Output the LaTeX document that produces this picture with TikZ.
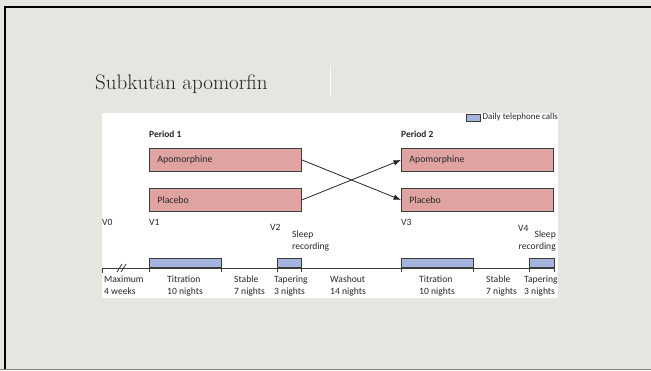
\documentclass[tikz,border=0pt]{standalone}
\usepackage{fontspec}
\newfontfamily\dfont{Carlito}
\usetikzlibrary{arrows.meta}
\definecolor{bgc}{RGB}{230,230,224}
\definecolor{boxfill}{RGB}{223,164,162}
\definecolor{barfill}{RGB}{165,180,220}
\definecolor{edgec}{RGB}{60,60,60}
\tikzset{
  tbox/.style={draw=edgec, line width=0.9pt, fill=boxfill, anchor=north west,
    text width=136pt, inner xsep=8pt, inner ysep=0pt, minimum height=23pt,
    align=left, font=\dfont\fontsize{9.8}{11}\selectfont, text=black!85},
  lbl/.style={inner sep=0pt, font=\dfont\fontsize{9.6}{11.5}\selectfont, text=black!85},
  tlbl/.style={lbl, anchor=north west, align=left},
  barbox/.style={draw=edgec, line width=0.8pt, fill=barfill, anchor=south west,
    minimum height=9pt, inner sep=0pt},
  arr/.style={draw=black!85, line width=0.8pt, -{Latex[length=7.5pt,width=5.5pt]}},
  tl/.style={draw=edgec, line width=0.8pt}
}
\begin{document}
\begin{tikzpicture}[x=1pt,y=-1pt]
\useasboundingbox (0,0) rectangle (651,370);
\fill[bgc] (0,0) rectangle (651,370);
\draw[black, line width=2pt] (5,370) -- (5,7) -- (651,7);
\draw[gray, line width=1.5pt] (0,369.3) -- (651,369.3);
\fill[white] (102,113) rectangle (558,298);
\node[anchor=west, inner sep=0pt, font=\fontsize{21}{25}\selectfont, text=black!85] (title) at (95,84) {Subkutan apomorfin};
\draw[white, line width=1pt] (330,66) -- (330,95);
% legend
\node[draw=edgec, line width=0.6pt, fill=barfill, minimum width=14pt, minimum height=7pt, inner sep=0pt, anchor=west] (leg) at (466,117.5) {};
\node[lbl, anchor=west, font=\dfont\fontsize{9}{10}\selectfont] (legt) at (482.5,117.5) {Daily telephone calls};
% periods
\node[lbl, anchor=west, font=\dfont\bfseries\fontsize{9.4}{11}\selectfont] (per1) at (149,134) {Period 1};
\node[lbl, anchor=west, font=\dfont\bfseries\fontsize{9.4}{11}\selectfont] (per2) at (401,134) {Period 2};
\node[tbox] (a1) at (149,148) {Apomorphine};
\node[tbox] (p1) at (149,188) {Placebo};
\node[tbox] (a2) at (401,148) {Apomorphine};
\node[tbox] (p2) at (401,188) {Placebo};
\draw[arr] (a1.east) -- (p2.west);
\draw[arr] (p1.east) -- (a2.west);
% visits
\node[lbl, anchor=west] (v0) at (102,222) {V0};
\node[lbl, anchor=west] (v1) at (149,222) {V1};
\node[lbl, anchor=west] (v2) at (270,227.5) {V2};
\node[lbl, anchor=west] (v3) at (401,222) {V3};
\node[lbl, anchor=west] (v4) at (518,228) {V4};
\node[lbl, anchor=north west, align=left] (s2) at (292,231) {Sleep\\recording};
\node[lbl, anchor=north east, align=right] (s4) at (556,231) {Sleep\\recording};
% timeline
\coordinate (tlL) at (102,268);
\coordinate (tlR) at (554,268);
\draw[tl] (tlL) -- (tlR);
\draw[tl] (tlL) -- ++(0,5);
\draw[tl] (117,272) -- (122,264);
\draw[tl] (121,272) -- (126,264);
\node[barbox, minimum width=72pt] (b1) at (149,268) {};
\node[barbox, minimum width=24pt] (b2) at (277,268) {};
\node[barbox, minimum width=72pt] (b3) at (401,268) {};
\node[barbox, minimum width=25pt] (b4) at (529,268) {};
\foreach \b in {b1,b2,b3,b4}{
  \draw[tl] (\b.north west) -- ++(0,14);
  \draw[tl] (\b.north east) -- ++(0,14);
}
% phase labels
\node[tlbl] (m0) at (104,276) {Maximum\\4 weeks};
\node[tlbl] (m1) at (167,276) {Titration\\10 nights};
\node[tlbl] (m2) at (234,276) {Stable\\7 nights};
\node[tlbl] (m3) at (274,276) {Tapering\\3 nights};
\node[tlbl] (m4) at (330,276) {Washout\\14 nights};
\node[tlbl] (m5) at (419,276) {Titration\\10 nights};
\node[tlbl] (m6) at (486,276) {Stable\\7 nights};
\node[tlbl] (m7) at (524,276) {Tapering\\3 nights};
\end{tikzpicture}
\end{document}
